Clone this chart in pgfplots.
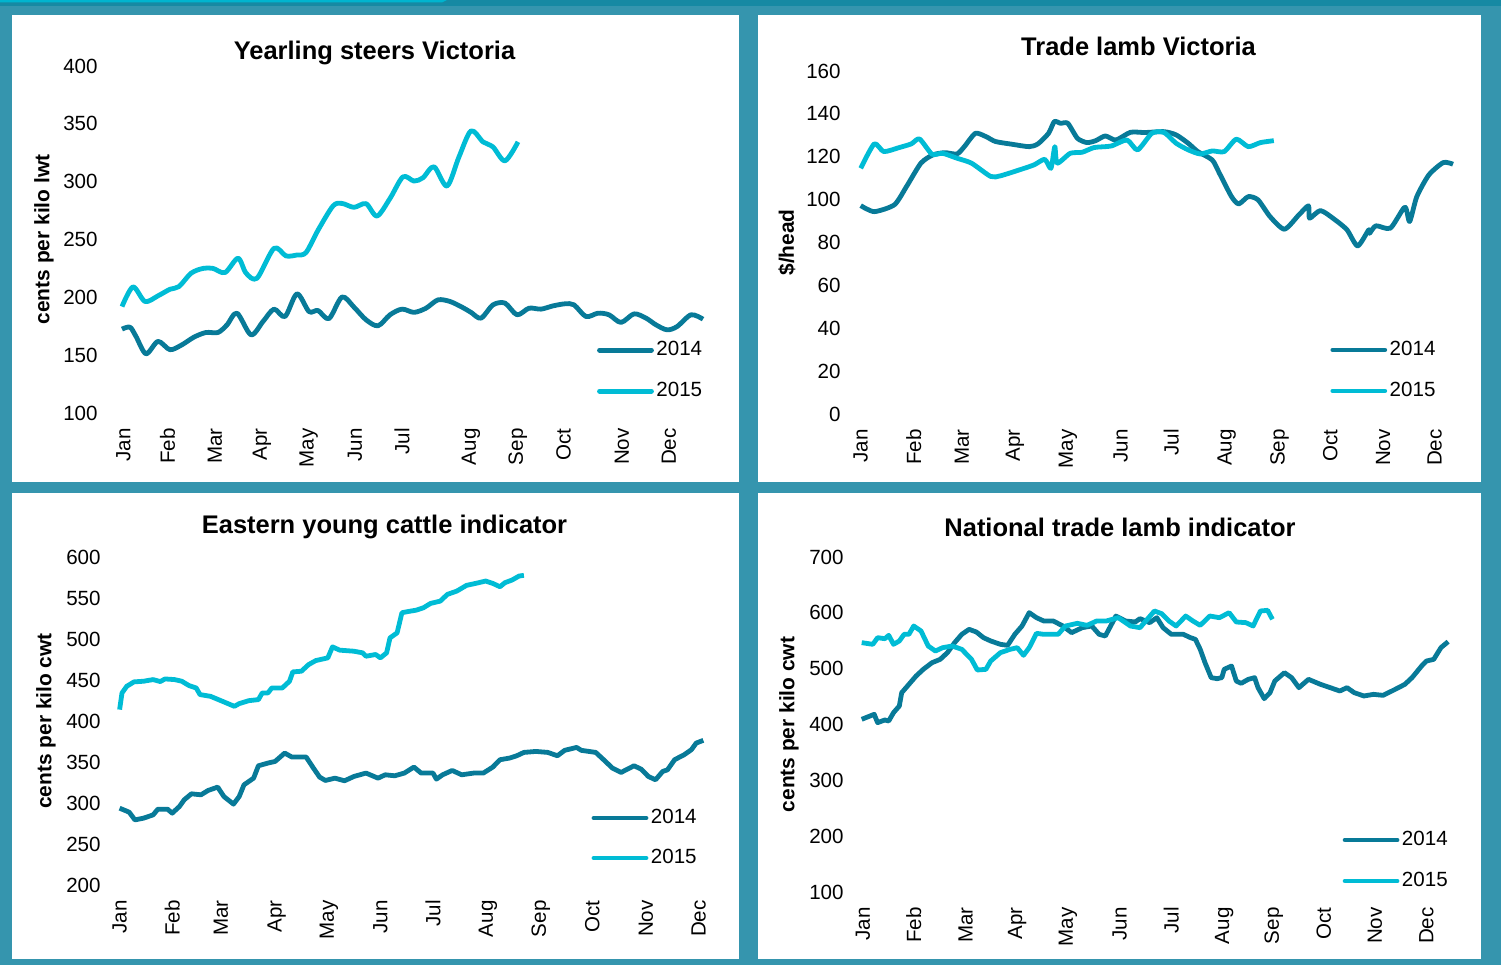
\documentclass[border=0pt]{standalone}
\usepackage{fontspec}
\setmainfont{Liberation Sans}
\usepackage{pgfplots}
\pgfplotsset{compat=1.18}
\definecolor{bgteal}{HTML}{3595AE}
\definecolor{c14}{HTML}{087A98}
\definecolor{c15}{HTML}{00BCD5}
\definecolor{stripdark}{HTML}{1689A3}
\definecolor{stripcyan}{HTML}{00B4CF}
\newcommand{\tickfont}{\fontsize{5.85}{7}\selectfont}
\newcommand{\labfont}{\bfseries\fontsize{5.95}{7}\selectfont}
\newcommand{\titfont}{\bfseries\fontsize{7.25}{8.5}\selectfont}
\pgfplotsset{legend image code/.code={\draw[#1, line cap=round] (0mm,0mm) -- (5.2mm,0mm);}}
\pgfplotsset{
 panel/.style={
  scale only axis,
  axis line style={draw=none},
  major tick length=0pt,
  tick style={draw=none},
  /pgf/number format/assume math mode=true,
  tick label style={font=\tickfont, text=black},
  xticklabel style={rotate=90, anchor=east},
  xticklabel shift=0.3mm,
  yticklabel shift=-0.6mm,
  ylabel style={font=\labfont, anchor=center},
  clip=false,
  legend cell align=left,
  legend style={draw=none, fill=none, inner sep=0pt, outer sep=0pt, row sep=1.7mm, font=\tickfont,
    nodes={inner sep=0.25mm, text height=1.5mm, text depth=0.4mm}, anchor=west},
  xticklabels={Jan,Feb,Mar,Apr,May,Jun,Jul,Aug,Sep,Oct,Nov,Dec},
 },
 s14/.style={color=c14, line width=0.48mm, line join=round},
 s15/.style={color=c15, line width=0.48mm, line join=round},
}
\begin{document}
\begin{tikzpicture}
\fill[bgteal] (0,0) rectangle (150.1mm,-96.5mm);
\fill[stripdark] (0,0) rectangle (150.1mm,-0.6mm);
\fill[stripcyan] (0,0) -- (44.7mm,0) -- (44.2mm,-0.25mm) -- (0,-0.25mm) -- cycle;
\fill[white] (1.2mm,-1.5mm) rectangle (73.9mm,-48.2mm);
\fill[white] (75.8mm,-1.5mm) rectangle (148.1mm,-48.2mm);
\fill[white] (1.2mm,-49.3mm) rectangle (73.9mm,-95.9mm);
\fill[white] (75.8mm,-49.3mm) rectangle (148.1mm,-95.9mm);

% Chart 1
\begin{axis}[panel, at={(10.4mm,-41.3mm)}, anchor=south west, width=61.1mm, height=34.7mm,
  xmin=104, xmax=715, ymin=100, ymax=400, ytick={100,150,...,400},
  xtick={123.4,167.5,215,262,308.6,355,402,471,517.7,563.6,622,669},
  ylabel={cents per kilo lwt}, ylabel style={at={(axis description cs:-0.0982,0.5)}},
  legend style={at={(axis description cs:0.807,0.122)}}]
\addplot[s14, smooth, tension=0.5] coordinates {(122,172.5)(130,174.2)(136,166.2)(146,151.2)(158,161.9)(170,154.7)(182,159)(194,165.6)(206,169.6)(218,169.6)(227,176.2)(237,186.3)(251,167.6)(263,179.1)(274,189.8)(285,183.4)(297,203)(309,187.7)(318,188.6)(329,181.6)(342,200.3)(354,191.5)(366,180.6)(378,175.4)(390,184.9)(402,189.8)(414,187)(426,190.6)(438,197.8)(450,196.4)(462,191.5)(471,187)(481,182)(493,193.5)(505,195)(517,184.9)(529,190.6)(541,189.8)(553,192.6)(565,194.4)(574,193.5)(586,183.4)(598,186.3)(609,184.9)(621,178.3)(634,185.7)(646,182)(656,176.2)(667,171.9)(677,174.7)(691,184.9)(703,181.1)};
\addplot[s15, smooth, tension=0.5] coordinates {(122,192)(133,209)(145,196.4)(158,201.3)(170,207)(179,209.3)(191,220.8)(203,225)(213,225)(225,221.4)(238,233.8)(246,221)(257,216.5)(274,242.4)(286,235.8)(297,236.6)(306,238.7)(318,258)(333,279)(342,281.2)(354,277.8)(366,281)(377,270.3)(390,285.5)(403,304.2)(414,300.5)(423,303.4)(434,312.9)(447,296.2)(459,321.5)(471,343.9)(483,334.4)(493,330)(505,318)(518,334.4)};
\legend{2014,2015}
\end{axis}

% Chart 2
\begin{axis}[panel, at={(84.7mm,-41.4mm)}, anchor=south west, width=61.5mm, height=34.3mm,
  xmin=847, xmax=1462, ymin=0, ymax=160, ytick={0,20,...,160},
  xtick={860.7,913.7,961.8,1014.8,1067.8,1120.7,1171.3,1226.6,1279.6,1330.2,1383.1,1434.6},
  ylabel={\$/head}, ylabel style={at={(axis description cs:-0.0976,0.5)}},
  legend style={at={(axis description cs:0.786,0.127)}}]
\addplot[s14, smooth, tension=0.4] coordinates {(860.7,97.2)(874.2,94.4)(894.4,97.6)(906.5,106.1)(920.9,117)(933,120.9)(945,121.9)(957,121.3)(964.3,124.7)(975.3,130.9)(985.9,129.4)(995.5,127.1)(1012.4,125.8)(1029.2,124.7)(1037.9,126)(1048.5,130.9)(1054.3,136.4)(1060.5,135.6)(1067.8,135.6)(1077.4,128.6)(1087,126.6)(1095.7,127.5)(1105.3,129.7)(1115.9,127.8)(1130.4,131.4)(1144.8,131.3)(1164.1,131.7)(1176.1,130.2)(1188.2,126.3)(1197.8,122.4)(1212.2,118.5)(1219.4,112.3)(1231.5,101.4)(1238.7,98)(1248.3,101.4)(1258,99.9)(1270,92.1)(1284.4,86.2)(1298.9,92.9)(1308.5,97.1)(1309.5,91.3)(1320.5,94.9)(1335,90.6)(1347,85.9)(1357.6,78.4)(1368.7,85.9)(1369.6,84.3)(1375.9,87.8)(1390.4,86.7)(1404.8,96.5)(1409.6,89.8)(1416.8,101.4)(1428.8,111.5)(1443.3,117.3)(1453,116.5)};
\addplot[s15, smooth, tension=0.4] coordinates {(860.7,114.6)(874.2,126)(883.8,122.4)(899.3,124.3)(911.3,126)(919.5,128.3)(932,121.2)(942.6,121.6)(957,119.3)(971.5,117)(990.7,110.8)(1000.4,111.1)(1019.6,113.9)(1034,116.2)(1044.7,118.8)(1050.9,114.6)(1054.8,124.7)(1057.2,117)(1070.2,121.6)(1082.2,122.1)(1094.2,124.3)(1111.1,125)(1127,127.8)(1137.6,123.2)(1152,131)(1164.1,131.3)(1176.1,126.3)(1188.2,123.2)(1200.2,121.3)(1212.2,122.7)(1224.2,122.4)(1236.3,128.2)(1248.3,124.7)(1260.4,126.6)(1273.8,127.5)};
\legend{2014,2015}
\end{axis}

% Chart 3
\begin{axis}[panel, at={(10.7mm,-88.5mm)}, anchor=south west, width=60.8mm, height=32.8mm,
  xmin=107, xmax=715, ymin=200, ymax=600, ytick={200,250,...,600},
  xtick={119.6,172.2,221,276.6,329,380.4,433,488,540.7,592.3,646,698.6},
  ylabel={cents per kilo cwt}, ylabel style={at={(axis description cs:-0.1003,0.5)}},
  legend style={row sep=1.6mm, at={(axis description cs:0.797,0.143)}}]
\addplot[s14] coordinates {(119.6,293.7)(129.2,288.8)(134.9,279.4)(143.5,281.5)(153.1,285.5)(157.9,292.5)(167.5,292.5)(172.2,287.6)(179.4,295.7)(184.2,303.9)(191.4,311.2)(201,310)(208.1,315.3)(217.7,319.4)(223.9,307.9)(233.5,298.6)(239.2,307.9)(244,322.2)(253.6,330.3)(258.4,345.4)(267.9,348.7)(275.1,350.7)(284.7,360.9)(291.9,356)(306.2,356)(313.4,342.6)(319.6,331.6)(325.4,327.5)(334.9,330.3)(344.5,327.1)(354,332.4)(366,336.5)(378,330.3)(385.2,334.4)(394.7,333.2)(404.3,336.5)(413.9,343.8)(421.1,336.5)(433,336.5)(436.4,329.1)(442.6,334.4)(452.2,339.7)(461.7,334.4)(473.7,336.5)(483.3,336.5)(492.8,343.8)(500,352.8)(509.6,354.8)(516.7,357.6)(523.9,361.7)(535.9,362.9)(547.8,361.7)(557.4,357.6)(564.6,364.2)(576.6,367.8)(581.3,364.2)(595.7,361.7)(602.9,353.6)(612.4,342.6)(621.1,337.3)(634,345.4)(641.1,341.3)(648.3,332.4)(655.5,328.3)(662.7,338.5)(667.5,340.5)(674.6,352.8)(684.2,358.9)(691.4,365)(696.2,373.1)(703.3,376.4)};
\addplot[s15] coordinates {(119.6,413.9)(122,434.2)(126.8,442.4)(134,447.7)(143.5,448.5)(153.1,450.5)(160.3,448.1)(165,451.3)(174.6,450.5)(181.8,448.5)(189,443.2)(196.2,440.3)(200,432.2)(210.5,430.1)(222.5,424)(234.4,417.9)(239.2,421.2)(248.8,424.8)(258.4,426.1)(262.2,434.2)(267.9,434.2)(271.8,440.3)(282.3,440.3)(289.5,448.5)(292.8,459.9)(301.4,460.7)(308.6,468.8)(315.8,473.7)(327.8,477)(332.5,490.4)(339.7,486.4)(354,485.1)(362.7,483.1)(366,479)(375.6,481.1)(380.4,477)(386.6,483.1)(390,501.4)(397.1,507.5)(401.9,532)(406.7,533.2)(416.3,535.2)(423.4,538.1)(430.6,543.4)(440.2,546.2)(447.4,554.4)(456.9,558.5)(466.5,565.4)(478.5,568.6)(485.6,570.7)(492.8,567.8)(500,563.7)(504.8,568.6)(512,571.9)(519.1,576.8)(523.9,577.6)};
\legend{2014,2015}
\end{axis}

% Chart 4
\begin{axis}[panel, at={(85.0mm,-89.2mm)}, anchor=south west, width=61.2mm, height=33.5mm,
  xmin=850, xmax=1462, ymin=100, ymax=700, ytick={100,200,...,700},
  xtick={863,913.7,965.7,1017.2,1067.8,1119.7,1171.3,1224.2,1273.8,1323.9,1374.9,1426.4},
  ylabel={cents per kilo cwt}, ylabel style={at={(axis description cs:-0.0997,0.5)}},
  legend style={at={(axis description cs:0.805,0.094)}}]
\addplot[s14] coordinates {(861.7,409.3)(874.2,418.2)(877.6,403.3)(884.8,408.1)(888.7,406.3)(893.5,421.2)(899.3,433.1)(901.7,457)(908.9,471.9)(916.1,486.9)(923.3,498.8)(932,510.7)(940.2,516.7)(947.4,528.7)(954.6,546.6)(961.8,561.5)(969.1,570.5)(976.3,565.7)(983.5,555.5)(990.7,549.6)(1000.4,543.6)(1007.6,541.8)(1014.8,561.5)(1022,576.4)(1029.2,600.3)(1036.5,591.3)(1043.7,585.4)(1053.3,585.4)(1062.9,576.4)(1071.6,564.5)(1082.2,573.4)(1091.8,576.4)(1099.1,561.5)(1105.3,558.5)(1115.9,594.3)(1125.5,585.4)(1135.2,583.6)(1140,589.6)(1149.6,582.4)(1156.8,591.3)(1163.1,573.4)(1171.3,561.5)(1183.3,561.5)(1190.5,555.5)(1195.4,552.5)(1200.2,534.6)(1205,510.7)(1211.2,483.9)(1217,482.1)(1221.8,483.9)(1224.2,498.8)(1231.5,504.8)(1236.3,477.9)(1241.1,473.7)(1248.3,480.9)(1254.6,483.9)(1258,466)(1264.2,446.3)(1270,457)(1274.8,477.9)(1284.4,492.8)(1291.6,483.9)(1298.9,466)(1308.5,480.9)(1320.5,471.9)(1330.2,466)(1339.8,460)(1347,466)(1354.2,457)(1363.9,451.1)(1373.5,454)(1383.1,452.2)(1395.2,463)(1404.8,471.9)(1412,483.9)(1421.6,504.8)(1426.4,513.7)(1433.7,516.7)(1440.9,537.6)(1448.1,548.4)};
\addplot[s15] coordinates {(861.7,546.6)(872.8,543.6)(877.6,555.5)(884.8,553.7)(888.7,559.7)(893.5,543.6)(899.3,549.6)(904.1,561.5)(908.9,561.5)(913.7,576.4)(921,567.5)(928.2,540.6)(935.4,531.6)(942.6,537.6)(952.2,540.6)(961.8,534.6)(971.5,516.7)(977.3,497.6)(985.9,498.8)(990.7,513.7)(1000.4,528.7)(1010,534.6)(1017.2,537.6)(1023.5,523.9)(1029.2,537.6)(1036.5,563.3)(1043.7,561.5)(1058.1,561.5)(1065.4,576.4)(1077.4,581.2)(1087,577.6)(1096.7,585.4)(1106.3,585.4)(1118.3,591.3)(1130.4,576.4)(1140,573.4)(1147.2,588.4)(1154.4,603.3)(1161.7,598.5)(1168.9,585.4)(1176.1,576.4)(1185.7,594.3)(1192.9,585.4)(1200.2,577.6)(1209.8,594.3)(1219.4,591.3)(1229.1,600.3)(1236.3,583.6)(1245.9,582.4)(1253.1,576.4)(1260.4,603.3)(1267.6,604.5)(1272.4,588.4)};
\legend{2014,2015}
\end{axis}

\node[font=\titfont, anchor=base] at (37.45mm,-5.93mm) {Yearling steers Victoria};
\node[font=\titfont, anchor=base] at (113.85mm,-5.6mm) {Trade lamb Victoria};
\node[font=\titfont, anchor=base] at (38.45mm,-53.4mm) {Eastern young cattle indicator};
\node[font=\titfont, anchor=base] at (112.0mm,-53.67mm) {National trade lamb indicator};
\pgfresetboundingbox
\useasboundingbox (0,0) rectangle (150.1mm,-96.5mm);
\end{tikzpicture}
\end{document}
